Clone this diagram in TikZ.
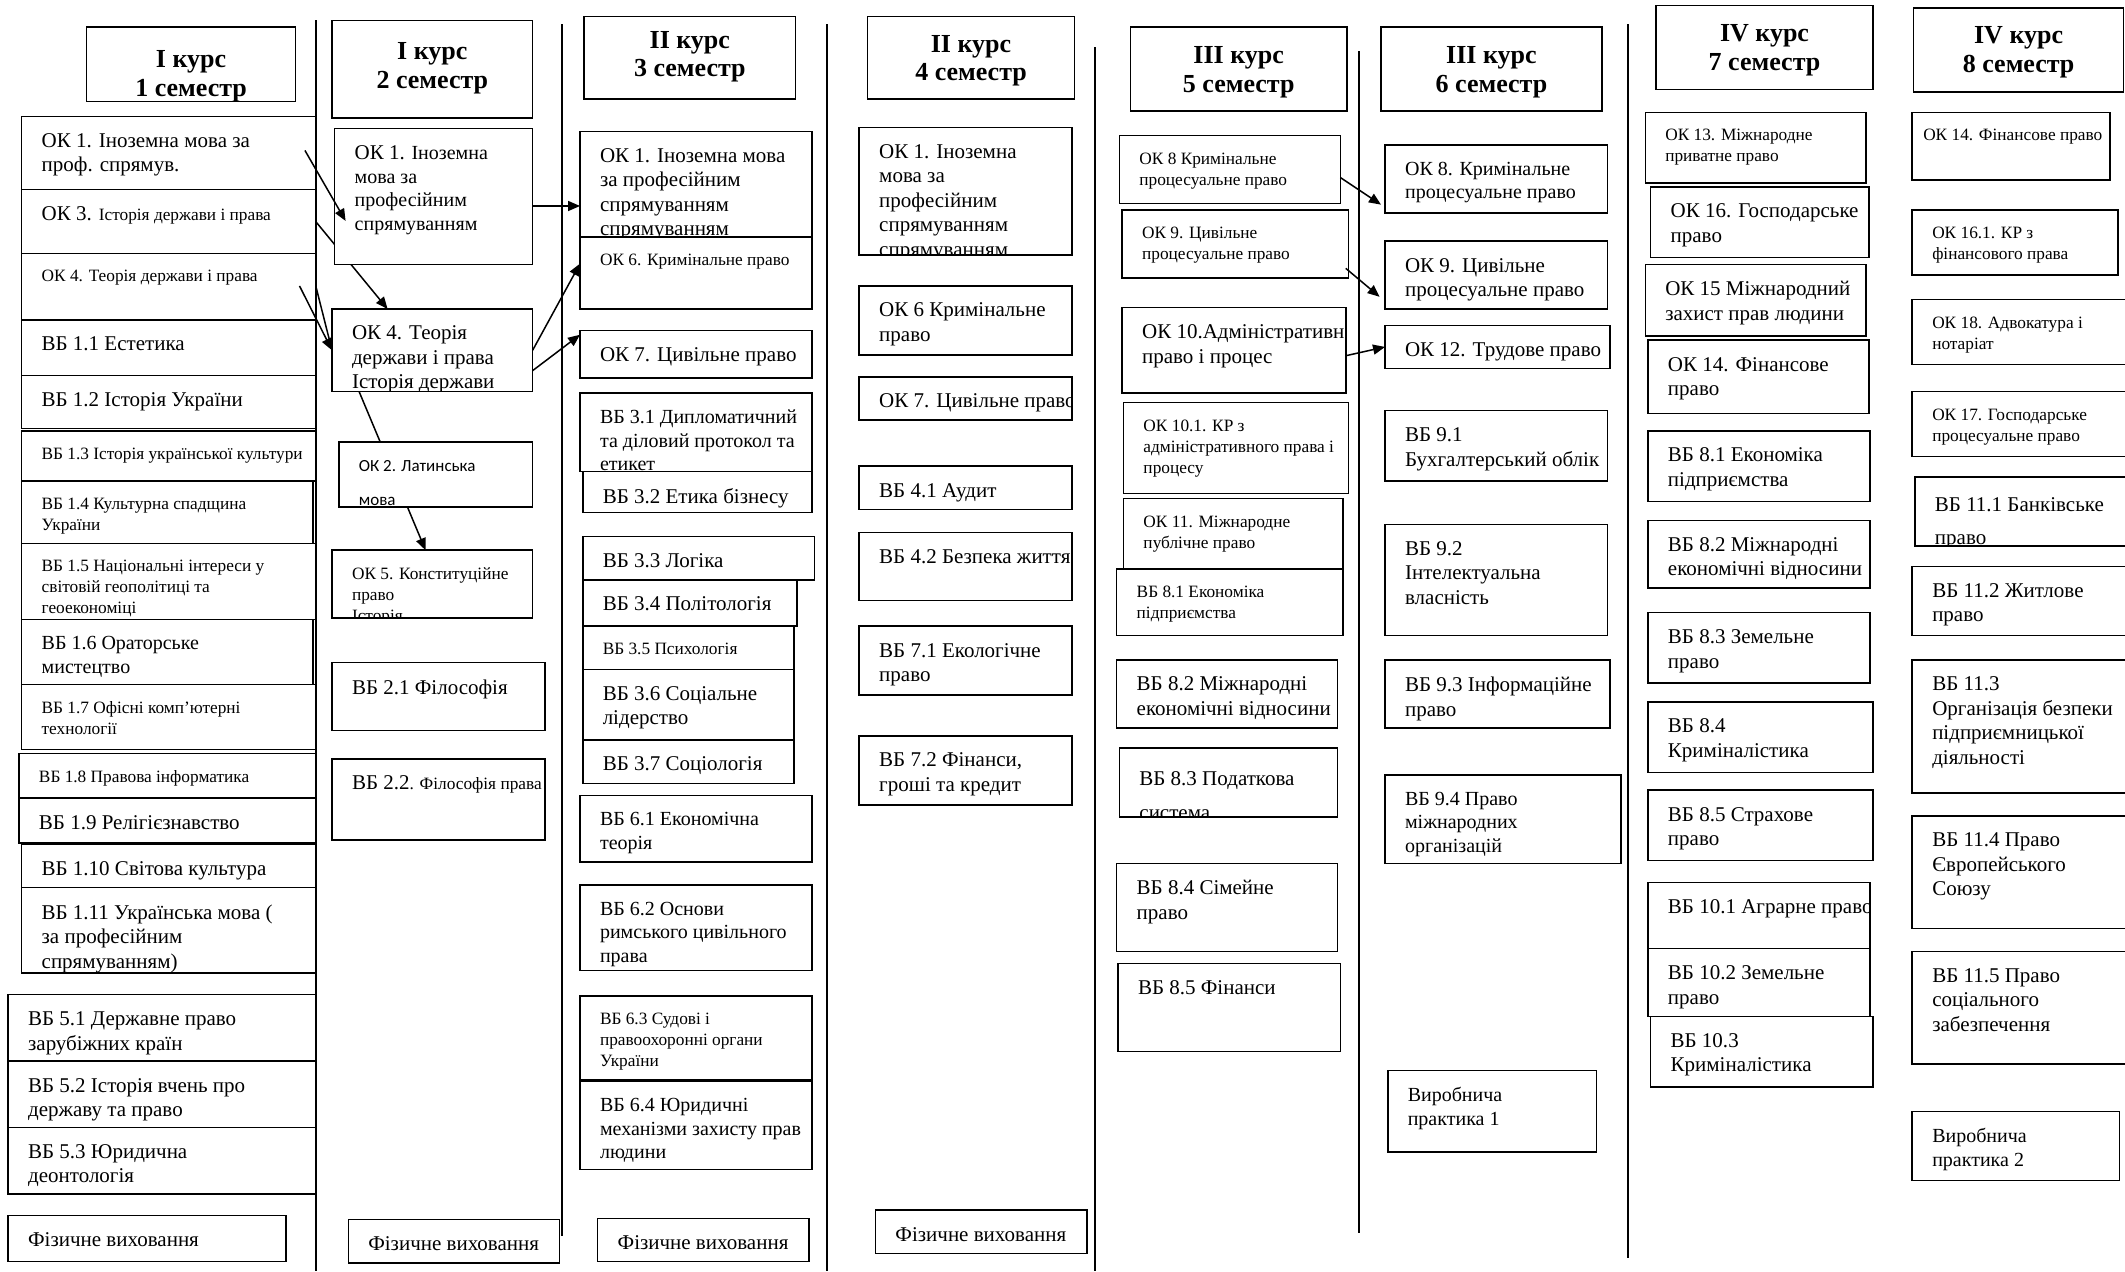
\documentclass[tikz,border=0pt]{standalone}
\usepackage{fontspec}
\setmainfont{Liberation Serif}
\newfontfamily\sansf{Carlito}
\usetikzlibrary{arrows.meta,calc}
\pgfdeclarelayer{back}
\pgfdeclarelayer{bg}
\pgfsetlayers{back,bg,main}
\newcommand\fL{\fontsize{21}{24.5}\selectfont}
\newcommand\fM{\fontsize{20}{23.5}\selectfont}
\newcommand\fS{\fontsize{17.3}{21}\selectfont}
\tikzset{
  box/.style={draw, line width=1.5pt, fill=white, anchor=north west, inner sep=0pt, outer sep=0pt},
  txt/.style={anchor=north west, align=left, inner sep=0pt, outer sep=0pt},
  htxt/.style={align=center, inner sep=0pt, font=\bfseries\fontsize{26}{28.5}\selectfont},
  arr/.style={line width=1.5pt, -{Triangle[length=12pt,width=10pt]}},
  sep/.style={line width=2pt},
}
% [text opts]{name}{x1}{y1}{x2}{y2}{font}{text}
\newcommand\bx[8][]{%
  \node[box, minimum width={(#5-#3)*1.3552pt}, minimum height={(#6-#4)*1.3552pt}] (#2) at (#3,#4) {};
  \begin{scope}
    \clip (#2.south west) rectangle (#2.north east);
    \node[txt, font=#7, #1] (#2t) at ([xshift=20pt, yshift=-17pt]#2.north west) {#8};
  \end{scope}
  \draw[line width=1.5pt] (#2.south west) rectangle (#2.north east);}
% [yshift]{name}{x1}{y1}{x2}{y2}{text}
\newcommand\hd[7][0pt]{%
  \node[box, minimum width={(#5-#3)*1.3552pt}, minimum height={(#6-#4)*1.3552pt}] (#2) at (#3,#4) {};
  \begin{scope}
    \clip (#2.south west) rectangle (#2.north east);
    \node[htxt] (#2t) at ([yshift=#1]#2.center) {#7};
  \end{scope}
  \draw[line width=1.5pt] (#2.south west) rectangle (#2.north east);}
\begin{document}
\begin{tikzpicture}[x=1.3552pt, y=-1.3552pt]
\useasboundingbox (0,0) rectangle (1568,938);
\begin{pgfonlayer}{back}
\fill[white] (0,0) rectangle (1568,938);
\end{pgfonlayer}
\clip (0,0) rectangle (1568,938);
% separators
\draw[sep] (233,15) -- (233,938);
\draw[sep] (415,18) -- (415,912);
\draw[sep] (610,18) -- (610,938);
\draw[sep] (808,35) -- (808,938);
\draw[sep] (1003,38) -- (1003,910);
\draw[sep] (1201,18) -- (1201,928);
% column 1
\hd[-12pt]{h1}{64}{20}{218}{75}{І курс\\1 семестр}
\bx{a1}{16}{86}{233}{140}{\fL}{ОК 1. Іноземна мова за\\проф. спрямув.}
\bx{a3}{16}{140}{233}{187}{\fL}{ОК 3. {\fS Історія держави і права}}
\bx{a4}{16}{187}{233}{236}{\fS}{ОК 4. Теорія держави і права}
\bx{a11}{16}{236}{233}{277}{\fL}{ВБ 1.1 Естетика}
\bx{a12}{16}{277}{233}{316}{\fL}{ВБ 1.2 Історія України}
\bx{a13}{16}{318}{233}{355}{\fS}{ВБ 1.3 Історія української культури}
\bx{a14}{16}{355}{231}{401}{\fS}{ВБ 1.4 Культурна спадщина\\України}
\bx{a15}{16}{401}{233}{457}{\fS}{ВБ 1.5 Національні інтереси у\\світовій геополітиці та\\геоекономіці}
\bx{a16}{16}{457}{231}{505}{\fM}{ВБ 1.6 Ораторське\\мистецтво}
\bx{a17}{16}{505}{233}{553}{\fS}{ВБ 1.7 Офісні комп'ютерні\\технології}
\bx{a18}{14}{556}{233}{589}{\fS}{ВБ 1.8 Правова інформатика}
\bx{a19}{14}{589}{233}{622}{\fL}{ВБ 1.9 Релігієзнавство}
\bx{a110}{16}{623}{233}{655}{\fL}{ВБ 1.10  Світова культура}
\bx{a111}{16}{655}{233}{718}{\fL}{ВБ 1.11 Українська мова (\\за професійним\\спрямуванням)}
\bx{a51}{6}{734}{233}{783}{\fL}{ВБ 5.1 Державне  право\\зарубіжних країн}
\bx{a52}{6}{783}{233}{832}{\fL}{ВБ 5.2 Історія вчень про\\державу та право}
\bx{a53}{6}{832}{233}{881}{\fL}{ВБ 5.3 Юридична\\деонтологія}
\bx{af}{6}{897}{211}{931}{\fL}{Фізичне виховання}
% column 2
\hd[1pt]{h2}{245}{15}{393}{87}{І курс\\2 семестр}
\bx{b1}{247}{95}{393}{195}{\fM}{{\fL ОК 1.} Іноземна\\мова за\\професійним\\спрямуванням}
\bx{b4}{245}{228}{393}{289}{\fL}{ОК 4. Теорія\\держави і права\\Історія держави}
\bx[yshift=-2pt]{b2}{250}{326}{393}{374}{\sansf\fontsize{17}{34}\selectfont}{ОК 2. Латинська\\мова}
\bx{b5}{245}{406}{393}{456}{\fS}{ОК 5. Конституційне\\право\\Історія}
\bx{b21}{245}{489}{402}{539}{\fL}{ВБ 2.1  Філософія}
\bx{b22}{245}{560}{402}{620}{\fS}{{\fL ВБ 2.2}. Філософія права}
\bx{bf}{257}{900}{413}{932}{\fL}{Фізичне виховання}
% column 3
\hd[1pt]{h3}{431}{12}{587}{73}{ІІ курс\\3 семестр}
\bx{c1}{428}{97}{599}{175}{\fL}{ОК 1. Іноземна мова\\за професійним\\спрямуванням\\спрямуванням}
\bx{c6}{428}{175}{599}{228}{\fS}{ОК 6. Кримінальне право}
\bx{c7}{428}{244}{599}{279}{\fL}{ОК 7. Цивільне право}
\bx{c31}{428}{290}{599}{348}{\fM}{ВБ 3.1  Дипломатичний\\та діловий протокол та\\етикет}
\bx{c32}{430}{348}{599}{378}{\fL}{ВБ 3.2  Етика бізнесу}
\bx{c33}{430}{396}{601}{428}{\fL}{ВБ 3.3  Логіка}
\bx{c34}{430}{428}{588}{462}{\fL}{ВБ 3.4  Політологія}
\bx{c35}{430}{462}{586}{494}{\fS}{ВБ 3.5  Психологія}
\bx{c36}{430}{494}{586}{546}{\fL}{ВБ 3.6  Соціальне\\лідерство}
\bx{c37}{430}{546}{586}{578}{\fL}{ВБ 3.7  Соціологія}
\bx{c61}{428}{587}{599}{636}{\fM}{ВБ 6.1  Економічна\\теорія}
\bx{c62}{428}{653}{599}{716}{\fM}{ВБ 6.2  Основи\\римського цивільного\\права}
\bx{c63}{428}{735}{599}{797}{\fS}{ВБ 6.3  Судові і\\правоохоронні органи\\України}
\bx{c64}{428}{798}{599}{863}{\fM}{ВБ 6.4  Юридичні\\механізми захисту прав\\людини}
\bx{cf}{441}{899}{597}{931}{\fL}{Фізичне виховання}
% column 4
\hd[-3pt]{h4}{640}{12}{793}{73}{ІІ курс\\4 семестр}
\bx{d1}{634}{94}{791}{188}{\fL}{ОК 1. Іноземна\\мова за\\професійним\\спрямуванням\\спрямуванням}
\bx{d6}{634}{211}{791}{262}{\fL}{ОК 6 Кримінальне\\право}
\bx{d7}{634}{278}{791}{310}{\fL}{ОК 7. Цивільне право}
\bx{d41}{634}{344}{791}{376}{\fL}{ВБ 4.1 Аудит}
\bx{d42}{634}{393}{791}{443}{\fL}{ВБ 4.2 Безпека життя}
\bx{d71}{634}{462}{791}{513}{\fL}{ВБ 7.1  Екологічне\\право}
\bx{d72}{634}{543}{791}{594}{\fL}{ВБ 7.2  Фінанси,\\гроші та кредит}
\bx{df}{646}{893}{802}{925}{\fL}{Фізичне виховання}
% column 5
\hd[-3pt]{h5}{834}{20}{994}{82}{ІІІ курс\\5 семестр}
\bx{e8}{826}{100}{989}{150}{\fS}{ОК 8 Кримінальне\\процесуальне право}
\bx{e9}{828}{155}{995}{205}{\fS}{ОК 9. Цивільне\\процесуальне право}
\bx{e10}{828}{227}{993}{290}{\fL}{ОК 10.Адміністративне\\право і процес}
\bx{e101}{829}{297}{995}{364}{\fS}{ОК 10.1. КР з\\адміністративного права і\\процесу}
\bx{e11}{829}{368}{991}{420}{\fS}{ОК 11. Міжнародне\\публічне право}
\bx{e81}{824}{420}{991}{469}{\fS}{ВБ 8.1 Економіка\\підприємства}
\bx{e82}{824}{487}{987}{537}{\fL}{ВБ 8.2 Міжнародні\\економічні відносини}
\bx[yshift=-6pt]{e83}{826}{552}{987}{603}{\fontsize{21}{34}\selectfont}{ВБ 8.3 Податкова\\система}
\bx{e84}{824}{637}{987}{702}{\fL}{ВБ 8.4 Сімейне\\право}
\bx{e85}{825}{711}{989}{776}{\fL}{ВБ 8.5 Фінанси}
% column 6
\hd[-3pt]{h6}{1019}{20}{1182}{82}{ІІІ курс\\6 семестр}
\bx{f8}{1022}{107}{1186}{157}{\fM}{ОК 8. Кримінальне\\процесуальне право}
\bx{f9}{1022}{178}{1186}{228}{\fL}{ОК 9. Цивільне\\процесуальне право}
\bx{f12}{1022}{240}{1188}{272}{\fL}{ОК 12. Трудове право}
\bx{f91}{1022}{303}{1186}{355}{\fL}{ВБ 9.1\\Бухгалтерський облік}
\bx{f92}{1022}{387}{1186}{469}{\fL}{ВБ 9.2\\ Інтелектуальна\\власність}
\bx{f93}{1022}{487}{1188}{537}{\fL}{ВБ 9.3 Інформаційне\\право}
\bx{f94}{1022}{572}{1196}{637}{\fM}{ВБ 9.4 Право\\міжнародних\\організацій}
\bx{fp}{1024}{790}{1178}{850}{\fM}{Виробнича\\практика 1}
% column 7
\hd[-3pt]{h7}{1222}{4}{1382}{66}{IV курс\\7 семестр}
\bx{g13}{1214}{83}{1377}{135}{\fS}{ОК 13. Міжнародне\\приватне право}
\bx{g16}{1218}{138}{1379}{190}{\fL}{ОК 16. Господарське\\право}
\bx{g15}{1214}{195}{1377}{248}{\fL}{ОК 15 Міжнародний\\захист прав людини}
\bx{g14}{1216}{251}{1379}{305}{\fL}{ОК 14. Фінансове\\право}
\bx{g81}{1216}{318}{1380}{370}{\fL}{ВБ 8.1 Економіка\\підприємства}
\bx{g82}{1216}{384}{1380}{434}{\fL}{ВБ 8.2 Міжнародні\\економічні відносини}
\bx{g83}{1216}{452}{1380}{504}{\fL}{ВБ 8.3 Земельне\\право}
\bx{g84}{1216}{518}{1382}{570}{\fL}{ВБ 8.4\\Криміналістика}
\bx{g85}{1216}{583}{1382}{635}{\fL}{ВБ 8.5 Страхове\\право}
\bx{g101}{1216}{651}{1380}{700}{\fL}{ВБ 10.1  Аграрне право}
\bx{g102}{1216}{700}{1380}{750}{\fL}{ВБ 10.2 Земельне\\право}
\bx{g103}{1218}{750}{1382}{802}{\fL}{ВБ 10.3\\Криміналістика}
% column 8
\hd[-2pt]{h8}{1412}{6}{1567}{68}{IV курс\\8 семестр}
\bx[xshift=-9pt]{k14}{1411}{83}{1557}{133}{\fS}{ОК 14. Фінансове право}
\bx{k161}{1411}{155}{1563}{203}{\fS}{ОК 16.1. КР з\\фінансового  права}
\bx{k18}{1411}{221}{1572}{269}{\fS}{ОК 18.  Адвокатура і\\нотаріат}
\bx{k17}{1411}{289}{1572}{337}{\fS}{ОК 17.  Господарське\\процесуальне право}
\bx[yshift=-4pt]{k111}{1413}{352}{1572}{403}{\fontsize{21}{33}\selectfont}{ВБ 11.1  Банківське\\право}
\bx{k112}{1411}{418}{1572}{469}{\fL}{ВБ 11.2  Житлове\\право}
\bx{k113}{1411}{487}{1572}{585}{\fL}{ВБ 11.3\\Організація безпеки\\підприємницької\\діяльності}
\bx{k114}{1411}{602}{1572}{685}{\fL}{ВБ 11.4  Право\\Європейського\\Союзу}
\bx{k115}{1411}{702}{1572}{785}{\fL}{ВБ 11.5  Право\\соціального\\забезпечення}
\bx{kp}{1411}{820}{1564}{871}{\fM}{Виробнича\\практика 2}
% connectors behind boxes
\begin{pgfonlayer}{bg}
\draw[arr] (a3.east) -- ($(b4.north west)+(41,0)$);
\draw[arr] ($(b4.south west)+(20,0)$) -- ($(b5.north west)+(69,0)$);
\end{pgfonlayer}
% connectors on top
\draw[arr] ($(a1.north east)+(-8,25)$) -- ($(b1.north west)+(8,68)$);
\draw[arr] ($(a4.north east)+(-12,24)$) -- (b4.west);
\draw[line width=1.5pt, shorten >=8pt] ($(a4.north east)+(0,24)$) -- (b4.west);
\coordinate (s6) at ($(b1.east)+(0,7)$);
\draw[arr] (s6) -- (s6 -| c1.west);
\draw[arr] (b4.east) -- ($(c6.west)+(0,-7)$);
\draw[arr] ($(b4.east)+(0,15)$) -- ($(c7.north west)+(0,3)$);
\draw[arr] ($(e8.east)+(0,6)$) -- ($(f8.south west)+(-3,-6)$);
\draw[arr] ($(e9.south east)+(-2,-7)$) -- ($(f9.south west)+(-4,-9)$);
\draw[arr] ($(e10.east)+(0,4)$) -- (f12.west);
\end{tikzpicture}
\end{document}
